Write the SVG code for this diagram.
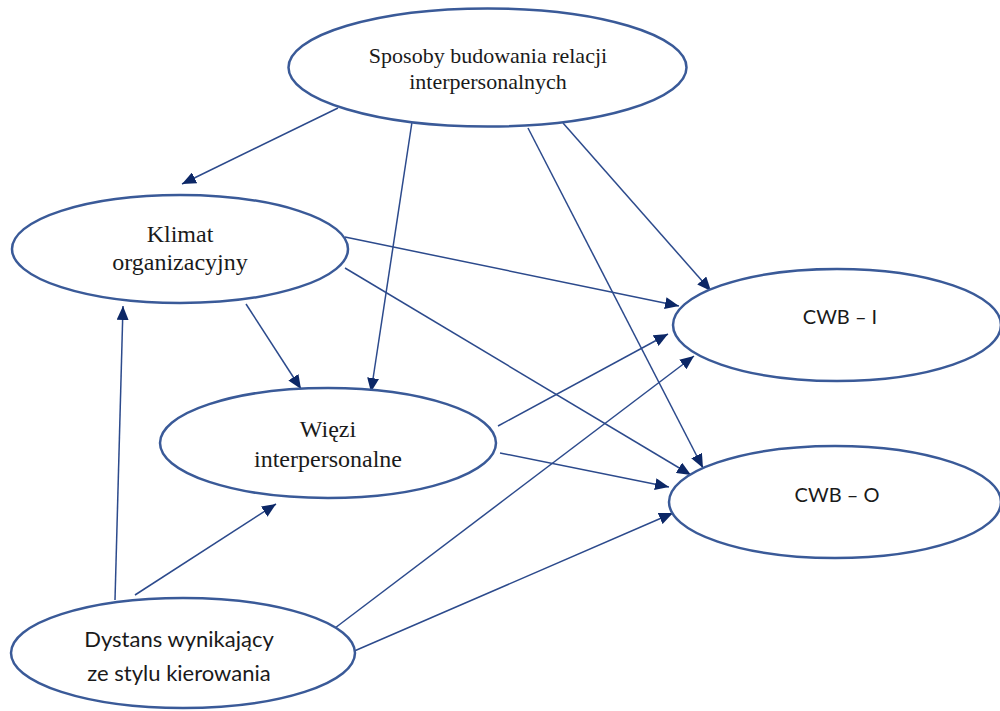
<svg xmlns="http://www.w3.org/2000/svg" width="1000" height="711" viewBox="0 0 1000 711">
  <style>
    .node { fill: #ffffff; stroke: #3a5a98; stroke-width: 2.5; }
    .serif { font-family: "Liberation Serif", "Times New Roman", serif; font-size: 22px; fill: #1a1a1a; text-anchor: middle; }
    .serif-lg { font-size: 24px; }
    .sans { font-family: Lato, "Open Sans", "Liberation Sans", sans-serif; font-size: 20px; fill: #1a1a1a; text-anchor: middle; }
    .sans-lg { font-size: 22px; }
    .edge { stroke: #2c4a8c; stroke-width: 1.5; fill: none; marker-end: url(#arrow); }
  </style>
  <defs>
    <marker id="arrow" markerUnits="userSpaceOnUse" markerWidth="16" markerHeight="12" refX="14" refY="6" orient="auto">
      <path d="M0,0 L14,6 L0,12 z" fill="#0c2766"/>
    </marker>
  </defs>

  <rect width="1000" height="711" fill="#ffffff"/>

  <!-- connectors -->
  <g id="connectors">
    <line class="edge" x1="338" y1="108" x2="182" y2="184"/>
    <line class="edge" x1="412" y1="122" x2="371" y2="392"/>
    <line class="edge" x1="528" y1="128" x2="703" y2="468"/>
    <line class="edge" x1="563" y1="123" x2="711" y2="291"/>
    <line class="edge" x1="345" y1="237" x2="679" y2="306"/>
    <line class="edge" x1="345" y1="268" x2="691" y2="475"/>
    <line class="edge" x1="246" y1="304" x2="301" y2="389"/>
    <line class="edge" x1="498" y1="426" x2="668" y2="334"/>
    <line class="edge" x1="500" y1="453" x2="669" y2="487"/>
    <line class="edge" x1="115" y1="600" x2="123" y2="306"/>
    <line class="edge" x1="135" y1="595" x2="276" y2="504"/>
    <line class="edge" x1="335" y1="628" x2="694" y2="356"/>
    <line class="edge" x1="352" y1="652" x2="673" y2="513"/>
  </g>

  <!-- nodes -->
  <g id="sposoby">
    <ellipse class="node" cx="487.5" cy="67.5" rx="199" ry="59"/>
    <text class="serif" x="488" y="63">Sposoby budowania relacji</text>
    <text class="serif" x="488" y="89">interpersonalnych</text>
  </g>

  <g id="klimat">
    <ellipse class="node" cx="180" cy="249" rx="168" ry="54"/>
    <text class="serif serif-lg" x="180" y="242">Klimat</text>
    <text class="serif serif-lg" x="180" y="270">organizacyjny</text>
  </g>

  <g id="wiezi">
    <ellipse class="node" cx="328" cy="443" rx="168" ry="55"/>
    <text class="serif serif-lg" x="328" y="437">Więzi</text>
    <text class="serif serif-lg" x="328" y="467">interpersonalne</text>
  </g>

  <g id="dystans">
    <ellipse class="node" cx="183" cy="653" rx="172" ry="55"/>
    <text class="sans sans-lg" x="179" y="647">Dystans wynikający</text>
    <text class="sans sans-lg" x="179" y="681">ze stylu kierowania</text>
  </g>

  <g id="cwb-i">
    <ellipse class="node" cx="837" cy="325" rx="164" ry="56"/>
    <text class="sans" x="840" y="324">CWB – I</text>
  </g>

  <g id="cwb-o">
    <ellipse class="node" cx="835" cy="502" rx="166" ry="56"/>
    <text class="sans" x="837" y="502">CWB – O</text>
  </g>
</svg>
